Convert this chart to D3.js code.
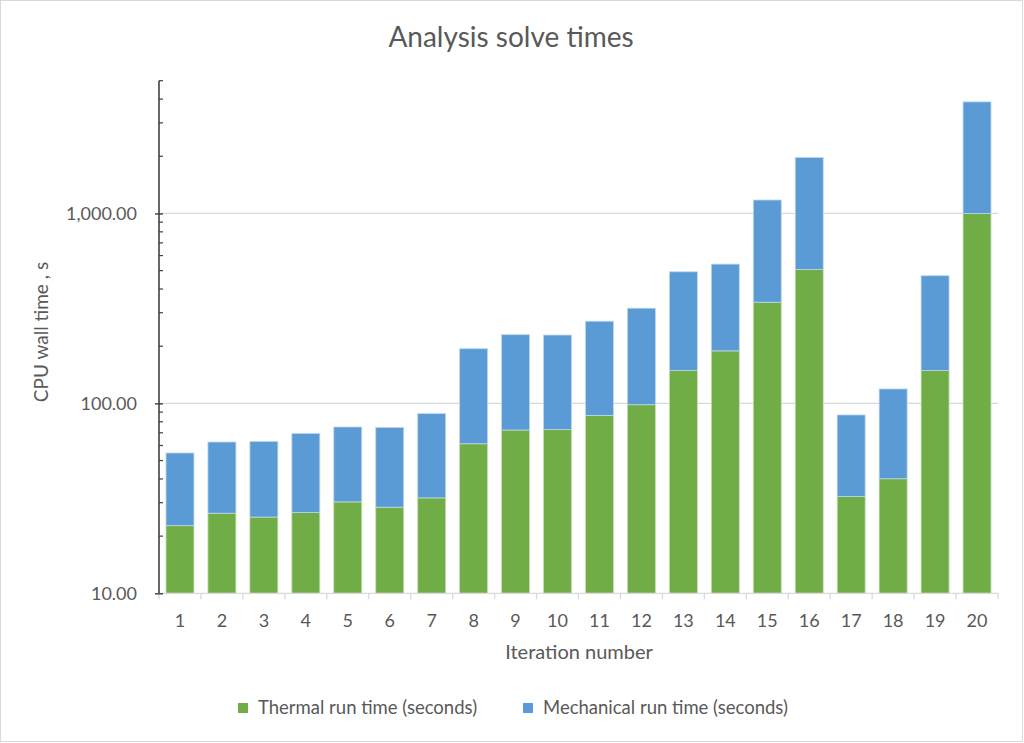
<!DOCTYPE html>
<html><head><meta charset="utf-8">
<script src="https://cdn.jsdelivr.net/npm/d3@7"></script>
<style>body{margin:0;background:#fff}svg{display:block}text{font-family:Lato,"Open Sans",sans-serif;fill:#595959}</style>
</head><body><svg id="c" width="1024" height="743"></svg>
<script>
const categories = ["1","2","3","4","5","6","7","8","9","10","11","12","13","14","15","16","17","18","19","20"];
const thermal = [22.7,26.4,25.2,26.6,30.3,28.4,31.8,61.3,72.4,72.9,86.5,98.4,148.8,189,341,507,32.3,40.1,148.8,1000];
const mechanical = [32.1,36.2,37.8,42.9,44.8,46.3,56.5,132.7,157.6,156.1,184.2,218.6,344.2,352,836,1463,54.6,79,321.2,2868];
const seriesNames = ["Thermal run time (seconds)","Mechanical run time (seconds)"];
const yTicks = [10,100,1000];
const yMinor = [20,30,40,50,60,70,80,90,200,300,400,500,600,700,800,900,2000,3000,4000,5000];
const colors = ["#70AD47","#5B9BD5"];

const svg = d3.select("#c");
svg.append("rect").attr("x",0.5).attr("y",0.5).attr("width",1022).attr("height",741).attr("fill","#fff").attr("stroke","#d9d9d9");

const L=159, R=998, T=80.7, B=593.3;
const x = d3.scaleBand().domain(categories).range([L,R]).paddingInner(1/3).paddingOuter(1/6);
const y = d3.scaleLog().domain([10,5000]).range([B,T]);

// gridlines
svg.append("g").selectAll("line").data([100,1000]).join("line")
  .attr("x1",L).attr("x2",R).attr("y1",d=>y(d)).attr("y2",d=>y(d))
  .attr("stroke","#d9d9d9").attr("stroke-width",1.3);

// bars
const data = categories.map((c,i)=>({c, t:thermal[i], m:mechanical[i]}));
const g = svg.append("g");
g.selectAll(".th").data(data).join("rect")
  .attr("x",d=>x(d.c)).attr("width",x.bandwidth())
  .attr("y",d=>y(d.t)).attr("height",d=>y(10)-y(d.t))
  .attr("fill",colors[0]).attr("stroke","#c5e0b4").attr("stroke-width",0.8);
g.selectAll(".me").data(data).join("rect")
  .attr("x",d=>x(d.c)).attr("width",x.bandwidth())
  .attr("y",d=>y(d.t+d.m)).attr("height",d=>y(d.t)-y(d.t+d.m))
  .attr("fill",colors[1]).attr("stroke","#bdd7ee").attr("stroke-width",0.8);

// x axis
svg.append("line").attr("x1",L).attr("x2",R).attr("y1",B).attr("y2",B).attr("stroke","#d9d9d9").attr("stroke-width",1.3);
const bstep = x.step();
svg.append("g").selectAll("line").data(d3.range(categories.length+1)).join("line")
  .attr("x1",i=>L+i*bstep).attr("x2",i=>L+i*bstep).attr("y1",B).attr("y2",B+6)
  .attr("stroke","#d9d9d9").attr("stroke-width",1.3);
svg.append("g").selectAll("text").data(categories).join("text")
  .attr("x",d=>x(d)+x.bandwidth()/2).attr("y",627).attr("text-anchor","middle")
  .attr("font-size",18).text(d=>d);

// y axis
const yAxis = d3.axisLeft(y).tickValues(yTicks).tickSize(4).tickFormat(d3.format(",.2f"));
const ya = svg.append("g").attr("transform",`translate(${L},0)`).call(yAxis);
ya.select(".domain").attr("stroke","#404040").attr("stroke-width",1.6).attr("d",`M0,${T}V${B}`);
ya.selectAll(".tick line").attr("x1",4).attr("x2",-4).attr("stroke","#404040").attr("stroke-width",1.4);
ya.selectAll(".tick text").attr("x",-22).attr("dy","0.35em").attr("font-size",18).attr("font-family","Lato,'Open Sans',sans-serif").attr("fill","#595959");
svg.append("g").selectAll("line").data(yMinor).join("line")
  .attr("x1",L).attr("x2",L+4).attr("y1",d=>y(d)).attr("y2",d=>y(d))
  .attr("stroke","#404040").attr("stroke-width",1.2);

// titles
svg.append("text").attr("x",511).attr("y",47).attr("text-anchor","middle").attr("font-size",28).text("Analysis solve times");
svg.append("text").attr("transform","translate(48,332) rotate(-90)").attr("text-anchor","middle").attr("font-size",19).text("CPU wall time , s");
svg.append("text").attr("x",579).attr("y",659).attr("text-anchor","middle").attr("font-size",20).text("Iteration number");

// legend
const lg = svg.append("g");
const lx = [238, 523];
seriesNames.forEach((n,i)=>{
  lg.append("rect").attr("x",lx[i]).attr("y",703).attr("width",10).attr("height",10).attr("fill",colors[i]);
  lg.append("text").attr("x",lx[i]+20).attr("y",714).attr("font-size",18.5).text(n);
});
</script></body></html>
